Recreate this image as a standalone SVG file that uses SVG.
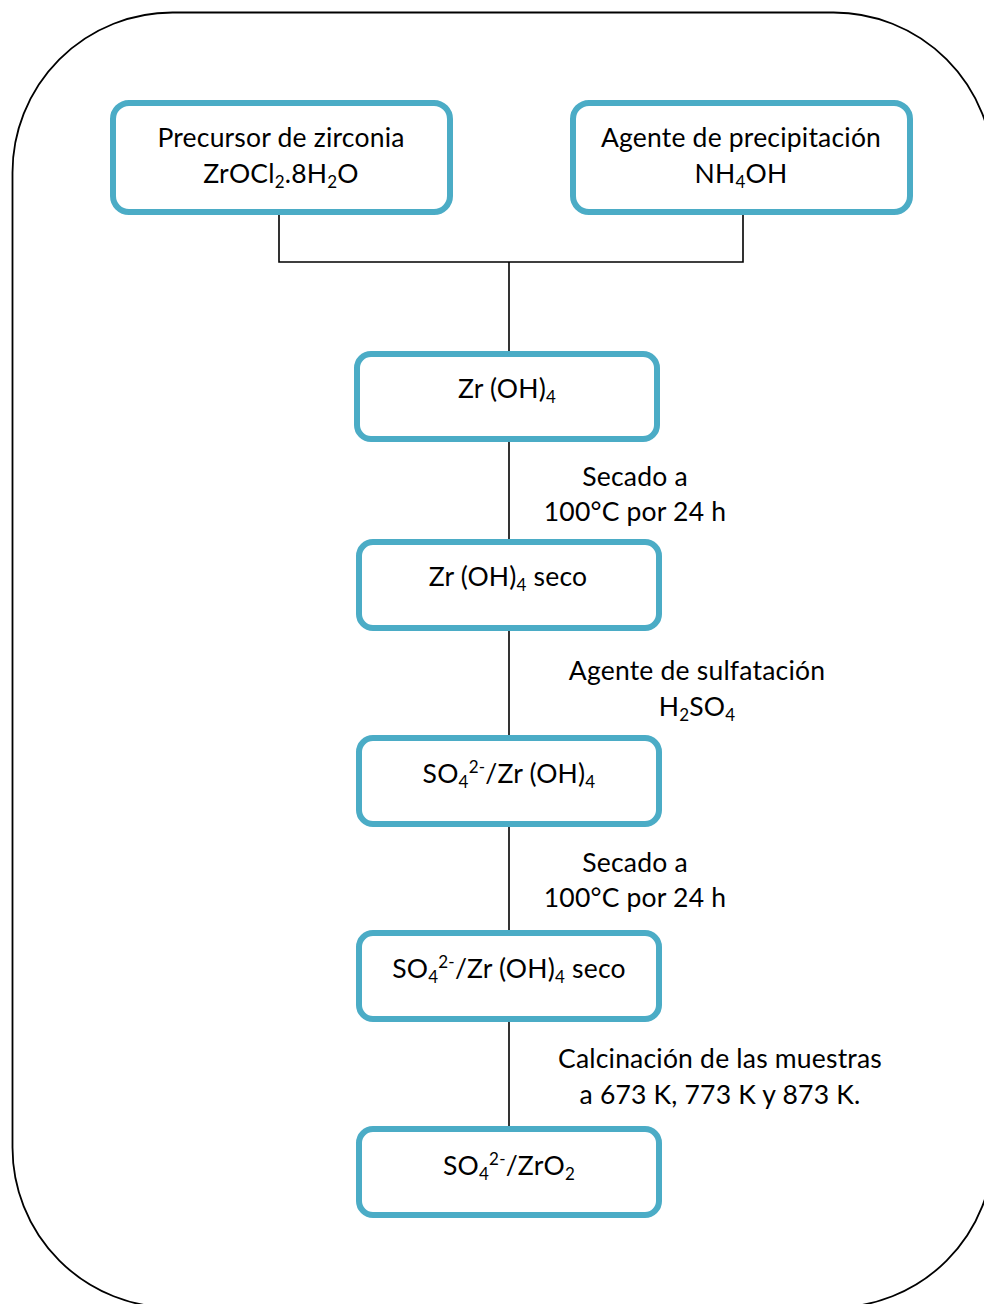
<svg xmlns="http://www.w3.org/2000/svg" width="984" height="1304" viewBox="0 0 984 1304">
<style>
.box{fill:#fff;stroke:#4BACC6;stroke-width:6}
.t{font-family:Lato,"Open Sans","Liberation Sans",sans-serif;font-size:26.5px;fill:#000;text-anchor:middle;letter-spacing:0.2px}
.s{font-size:17px}
.c{stroke:#000;stroke-width:1.6;fill:none}
</style>
<rect x="12.5" y="12.5" width="981" height="1295" rx="160" ry="160" fill="none" stroke="#000" stroke-width="1.8"/>
<g id="connectors">
<polyline class="c" points="279,212 279,262 743,262 743,212"/>
<line class="c" x1="509" y1="262" x2="509" y2="354"/>
<line class="c" x1="509" y1="439" x2="509" y2="542"/>
<line class="c" x1="509" y1="628" x2="509" y2="738"/>
<line class="c" x1="509" y1="824" x2="509" y2="933"/>
<line class="c" x1="509" y1="1019" x2="509" y2="1129"/>
</g>
<g id="n1">
<rect class="box" x="113" y="103" width="337" height="109" rx="16"/>
<text class="t" x="281" y="147">Precursor de zirconia</text>
<text class="t" x="281" y="183">ZrOCl<tspan class="s" dy="5">2</tspan><tspan dy="-5">.8H</tspan><tspan class="s" dy="5">2</tspan><tspan dy="-5">O</tspan></text>
</g>
<g id="n2">
<rect class="box" x="573" y="103" width="337" height="109" rx="16"/>
<text class="t" x="741" y="147">Agente de precipitación</text>
<text class="t" x="741" y="183">NH<tspan class="s" dy="5">4</tspan><tspan dy="-5">OH</tspan></text>
</g>
<g id="n3">
<rect class="box" x="357" y="354" width="300" height="85" rx="14"/>
<text class="t" x="507" y="398">Zr (OH)<tspan class="s" dy="5">4</tspan></text>
</g>
<g id="l1">
<text class="t" x="635" y="486">Secado a</text>
<text class="t" x="635" y="521">100°C por 24 h</text>
</g>
<g id="n4">
<rect class="box" x="359" y="542" width="300" height="86" rx="14"/>
<text class="t" x="508" y="586">Zr (OH)<tspan class="s" dy="5">4</tspan><tspan dy="-5"> seco</tspan></text>
</g>
<g id="l2">
<text class="t" x="697" y="680">Agente de sulfatación</text>
<text class="t" x="697" y="716">H<tspan class="s" dy="5">2</tspan><tspan dy="-5">SO</tspan><tspan class="s" dy="5">4</tspan></text>
</g>
<g id="n5">
<rect class="box" x="359" y="738" width="300" height="86" rx="14"/>
<text class="t" x="509" y="783">SO<tspan class="s" dy="5">4</tspan><tspan class="s" dy="-15">2-</tspan><tspan dy="10">/Zr (OH)</tspan><tspan class="s" dy="5">4</tspan></text>
</g>
<g id="l3">
<text class="t" x="635" y="872">Secado a</text>
<text class="t" x="635" y="907">100°C por 24 h</text>
</g>
<g id="n6">
<rect class="box" x="359" y="933" width="300" height="86" rx="14"/>
<text class="t" x="509" y="978">SO<tspan class="s" dy="5">4</tspan><tspan class="s" dy="-15">2-</tspan><tspan dy="10">/Zr (OH)</tspan><tspan class="s" dy="5">4</tspan><tspan dy="-5"> seco</tspan></text>
</g>
<g id="l4">
<text class="t" x="720" y="1068">Calcinación de las muestras</text>
<text class="t" x="720" y="1104">a 673 K, 773 K y 873 K.</text>
</g>
<g id="n7">
<rect class="box" x="359" y="1129" width="300" height="86" rx="14"/>
<text class="t" x="509" y="1175">SO<tspan class="s" dy="5">4</tspan><tspan class="s" dy="-15">2-</tspan><tspan dy="10">/ZrO</tspan><tspan class="s" dy="5">2</tspan></text>
</g>
</svg>
